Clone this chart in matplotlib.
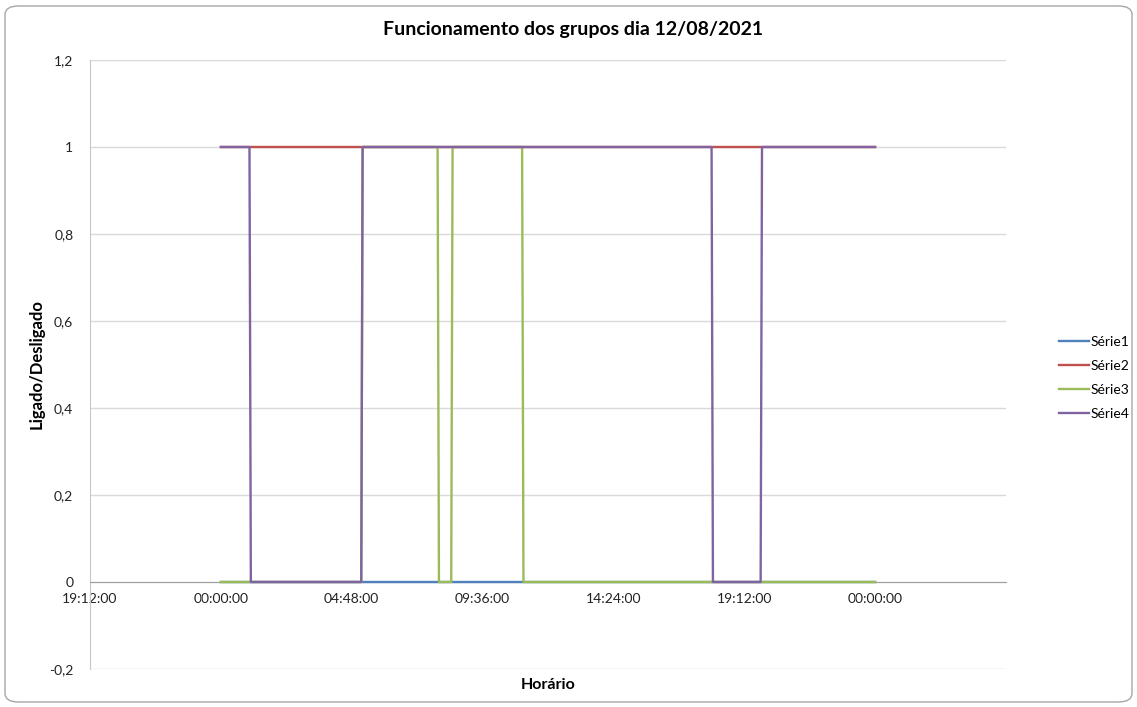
import matplotlib
matplotlib.use("Agg")
import matplotlib.pyplot as plt
from matplotlib.ticker import FixedLocator, FuncFormatter
from matplotlib.patches import FancyBboxPatch

# horarios em horas do dia 12/08/2021, valores 1 = ligado, 0 = desligado
t_serie1 = [0.0, 24.0]
v_serie1 = [0, 0]

t_serie2 = [0.0, 24.0]
v_serie2 = [1, 1]

t_serie3 = [0.0, 5.15, 5.2, 7.95, 8.0, 8.45, 8.5, 11.05, 11.1, 24.0]
v_serie3 = [0, 0, 1, 1, 0, 0, 1, 1, 0, 0]

t_serie4 = [0.0, 1.05, 1.1, 5.15, 5.2, 18.0, 18.05, 19.8, 19.85, 24.0]
v_serie4 = [1, 1, 0, 0, 1, 1, 0, 0, 1, 1]

nomes = ["Série1", "Série2", "Série3", "Série4"]
cores = ["#4F81BD", "#C0504D", "#9BBB59", "#8064A2"]

xticks = [-0.2, 0.0, 0.2, 0.4, 0.6, 0.8, 1.0]
yticks = [-0.2, 0.0, 0.2, 0.4, 0.6, 0.8, 1.0, 1.2]

plt.rcParams['font.family'] = ['Lato', 'DejaVu Sans']

fig = plt.figure(figsize=(11.37, 7.07), dpi=100)
ax = fig.add_axes([90/1137, 1-669/707, (1006-90)/1137, (669-60)/707])

# borda arredondada do grafico
fig.patches.append(FancyBboxPatch((5/1137, 5/707), 1127/1137, 696/707,
                                  boxstyle="round,pad=0,rounding_size=0.012",
                                  transform=fig.transFigure, fill=False,
                                  edgecolor="#A6A6A6", linewidth=1.0))

series = [(t_serie1, v_serie1), (t_serie2, v_serie2), (t_serie3, v_serie3), (t_serie4, v_serie4)]
for (t, v), nome, cor in zip(series, nomes, cores):
    ax.plot([h/24 for h in t], v, color=cor, linewidth=1.7, label=nome, zorder=3)

ax.set_xlim(-0.2, 1.2)
ax.set_ylim(-0.2, 1.2)

ax.yaxis.set_major_locator(FixedLocator(yticks))
ax.xaxis.set_major_locator(FixedLocator(xticks))

def fmt_hora(x, pos):
    s = round((x % 1) * 86400)
    return "%02d:%02d:%02d" % (s // 3600, (s % 3600) // 60, s % 60)

def fmt_num(y, pos):
    y = round(y, 1)
    if y == int(y):
        return "%d" % y
    return ("%.1f" % y).replace(".", ",")

ax.xaxis.set_major_formatter(FuncFormatter(fmt_hora))
ax.yaxis.set_major_formatter(FuncFormatter(fmt_num))

ax.grid(axis='y', color="#D9D9D9", linewidth=1)
ax.set_axisbelow(True)
for s in ['top', 'right']:
    ax.spines[s].set_visible(False)
ax.spines['bottom'].set_position(('data', 0))
ax.spines['bottom'].set_color("#A0A0A0")
ax.spines['left'].set_color("#C8C8C8")
ax.tick_params(axis='both', length=0, labelsize=10, colors="#222222")
ax.tick_params(axis='x', pad=8)
ax.tick_params(axis='y', pad=12)

fig.text(573/1137, 1-30/707, "Funcionamento dos grupos dia 12/08/2021",
         ha='center', va='center', fontsize=14, fontweight='bold')
fig.text(548/1137, 1-685/707, "Horário", ha='center', va='center',
         fontsize=11.5, fontweight='bold')
fig.text(37/1137, 1-364/707, "Ligado/Desligado", ha='center', va='center',
         rotation=90, fontsize=12, fontweight='bold')

fig.legend(loc='center left', bbox_to_anchor=(1046/1137, 1-378/707),
           frameon=False, fontsize=10, handlelength=2.2, handletextpad=0.1,
           labelspacing=0.85)

fig.savefig("out.png", dpi=100)
